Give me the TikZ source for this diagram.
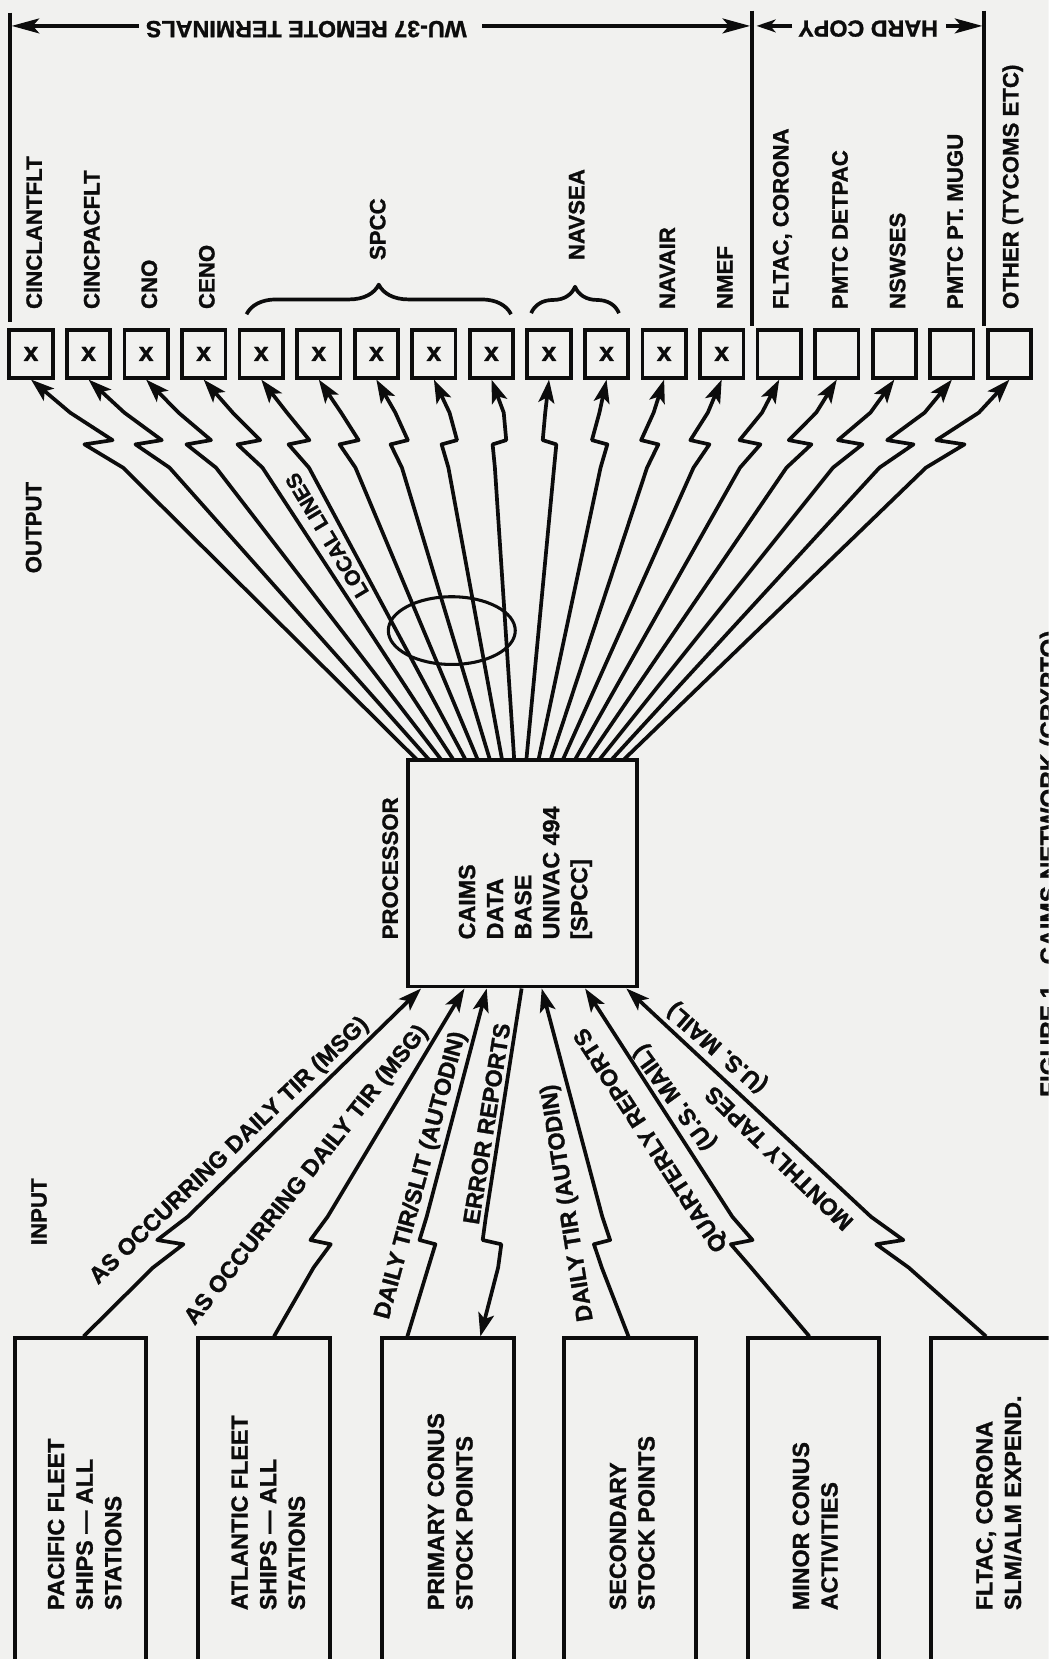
\documentclass[tikz,border=0pt]{standalone}
\usepackage{fontspec}
\setmainfont{Liberation Sans}
\newfontfamily\hv{Liberation Sans Bold}[FakeBold=1.2]
\usetikzlibrary{arrows.meta,decorations.pathreplacing,calc,shapes.geometric}
\definecolor{paper}{RGB}{241,241,239}
\definecolor{ink}{RGB}{12,12,12}
\begin{document}
\begin{tikzpicture}[x=1pt,y=-1pt,
  every node/.style={text=ink},
  lbl/.style={font=\hv\fontsize{21}{26}\selectfont, inner sep=0pt},
  hdr/.style={font=\hv\fontsize{22}{26}\selectfont, inner sep=0pt},
  flow/.style={font=\hv\fontsize{22}{26}\selectfont, inner sep=0pt},
  boxtxt/.style={font=\hv\fontsize{22}{27}\selectfont, inner sep=0pt, align=left},
  wire/.style={draw=ink, line width=3.5pt, line join=round},
  tip/.style={-{Stealth[length=22pt,width=15pt,inset=5pt]}},
  hdrtip/.style={-{Stealth[length=26pt,width=14pt,inset=6pt]}},
  termbox/.style={draw=ink, line width=3.5pt, minimum width=41pt, minimum height=45pt, inner sep=0pt},
  srcbox/.style={draw=ink, line width=3.8pt, minimum width=124pt, minimum height=320pt, inner sep=0pt},
]
\clip (0,0) rectangle (991,1568);
\fill[paper] (0,0) rectangle (991,1568);
\useasboundingbox (0,0) rectangle (991,1568);

% ---------- header: extent arrows ----------
\coordinate (hl0) at (9.5,12);   \coordinate (hl1) at (9.5,304);
\coordinate (hm0) at (711,10);   \coordinate (hm1) at (711,308);
\coordinate (hr0) at (930,10);   \coordinate (hr1) at (930,308);
\draw[wire] (hl0) -- (hl1);
\draw[wire] (hm0) -- (hm1);
\draw[wire] (hr0) -- (hr1);

\node[hdr, rotate=180] (wu) at (289.5,27.5) {WU-37 REMOTE TERMINALS};
\coordinate (wuL) at (131,24.5); \coordinate (wuR) at (456,24.5);
\coordinate (wuTipL) at (11,24.5); \coordinate (wuTipR) at (709,24.5);
\draw[wire,hdrtip] (wuL) -- (wuTipL);
\draw[wire,hdrtip] (wuR) -- (wuTipR);

\node[hdr, rotate=180] (hc) at (820.5,27) {HARD COPY};
\coordinate (hcL) at (749,24.5); \coordinate (hcR) at (894,24.5);
\coordinate (hcTipL) at (715,24.5); \coordinate (hcTipR) at (928.5,24.5);
\draw[wire,-{Stealth[length=18pt,width=12pt,inset=5pt]}] (hcL) -- (hcTipL);
\draw[wire,hdrtip] (hcR) -- (hcTipR);

% ---------- terminal boxes ----------
\foreach \i in {0,...,17}
  \node[termbox] (b\i) at ({29.3+54.4*\i},334.5) {};
\foreach \i in {0,...,12}
  \node[font=\hv\fontsize{25}{25}\selectfont, inner sep=0pt] (x\i) at (b\i) {x};

\foreach \i/\t in {0/CINCLANTFLT,1/CINCPACFLT,2/CNO,3/CENO,11/NAVAIR,12/NMEF,
                   13/{FLTAC, CORONA},14/PMTC DETPAC,15/NSWSES,16/PMTC PT. MUGU,
                   17/OTHER (TYCOMS ETC)}
  \node[lbl, rotate=90, anchor=west] (t\i) at ($(b\i.north)+(3,-18)$) {\t};

\node[lbl, rotate=90, anchor=west] (spcc) at (357,246) {SPCC};
\node[lbl, rotate=90, anchor=west] (navsea) at (545,246) {NAVSEA};
\coordinate (spccA) at (233,297); \coordinate (spccB) at (483,297);
\coordinate (navA) at (502,296); \coordinate (navB) at (585,296);
\draw[wire, decorate, decoration={brace, amplitude=28pt}] (spccA) -- (spccB);
\draw[wire, decorate, decoration={brace, amplitude=25pt}] (navA) -- (navB);

% ---------- processor ----------
\node[draw=ink, line width=3.5pt, minimum width=216.5pt, minimum height=214.5pt, inner sep=0pt]
  (proc) at (493.75,825.25) {};
\foreach \k/\t in {0/CAIMS,1/DATA,2/BASE,3/UNIVAC 494,4/{[SPCC]}}
  \node[font=\hv\fontsize{22}{27}\selectfont, inner sep=0pt, rotate=90, anchor=base west]
    (pl\k) at ({449+26.5*\k},888) {\t};
\node[lbl, rotate=90, anchor=base west] (proclbl) at (376,888) {PROCESSOR};

% ---------- output links (processor to terminals), each with a lightning break ----------
\foreach \i in {0,...,17}{
  \pgfmathsetmacro\px{394+11.5*\i}
  \pgfmathsetmacro\tx{29.3+54.4*\i}
  \pgfmathsetmacro\dx{\tx-\px}
  \pgfmathsetmacro\zx{\px+0.836*\dx+4}
  \pgfmathsetmacro\s{\dx<0 ? -1 : 1}
  \pgfmathsetmacro\hw{6+0.02*abs(\dx)}
  \pgfmathsetmacro\ca{0.10*abs(\dx)}
  \pgfmathsetmacro\cb{0.11*abs(\dx)}
  \coordinate (op\i) at (\px,718);
  \coordinate (ob\i) at ({\zx+\s*\hw},420);
  \coordinate (oa\i) at ({\zx-\s*\hw},416);
  \coordinate (ok\i) at ({\zx+\s*\hw-\s*\ca},442);
  \coordinate (om\i) at ({\zx-\s*\hw+\s*\cb},390);
  \draw[wire,tip] (op\i) -- (ok\i) -- (ob\i) -- (oa\i) -- (om\i) -- (b\i.south);
}
\node[draw=ink, line width=2.9pt, ellipse, minimum width=120pt, minimum height=64pt, inner sep=0pt]
  (bundle) at (427,596) {};
\node[font=\hv\fontsize{20}{24}\selectfont, inner sep=0pt, rotate=121] (local) at (309,506) {LOCAL LINES};
\node[lbl, rotate=90, anchor=base west] (outlbl) at (39,542) {OUTPUT};

% ---------- input sources ----------
\node[srcbox] (in1) at (76,1425) {};
\node[srcbox] (in2) at (249.5,1425) {};
\node[srcbox] (in3) at (423.5,1425) {};
\node[srcbox] (in4) at (595.5,1425) {};
\node[srcbox] (in5) at (768.5,1425) {};
\node[srcbox] (in6) at (942,1425) {};
\node[boxtxt, rotate=90, anchor=west] (in1t) at (80,1522) {PACIFIC FLEET\\SHIPS — ALL\\STATIONS};
\node[boxtxt, rotate=90, anchor=west] (in2t) at (253.5,1522) {ATLANTIC FLEET\\SHIPS — ALL\\STATIONS};
\node[boxtxt, rotate=90, anchor=west] (in3t) at (425.5,1522) {PRIMARY CONUS\\STOCK POINTS};
\node[boxtxt, rotate=90, anchor=west] (in4t) at (597.5,1522) {SECONDARY\\STOCK POINTS};
\node[boxtxt, rotate=90, anchor=west] (in5t) at (770.5,1522) {MINOR CONUS\\ACTIVITIES};
\node[boxtxt, rotate=90, anchor=west] (in6t) at (944,1522) {FLTAC, CORONA\\SLM/ALM EXPEND.};
\node[lbl, rotate=90, anchor=base west] (inlbl) at (44,1177) {INPUT};

% ---------- input links (sources to processor), each with a lightning break ----------
\foreach \n/\b/\so/\zx/\eo in {1/in1/3/161/-95.75, 2/in2/9.5/303/-54.75, 3/in3/-38.5/404/-33.75,
                               5/in4/-1.5/569/18.25, 6/in5/-3.5/701/59.25, 7/in6/-10/841/98.25}{
  \coordinate (is\n) at ($(\b.north)+(\so,0)$);
  \coordinate (ie\n) at ($(proc.south)+(\eo,0)$);
  \path (is\n); \pgfgetlastxy{\ax}{\ay}
  \path (ie\n); \pgfgetlastxy{\bx}{\by}
  \pgfmathsetmacro\dx{\ax-\bx}
  \pgfmathsetmacro\s{\dx<0 ? -1 : 1}
  \pgfmathsetmacro\hw{6+0.02*abs(\dx)}
  \pgfmathsetmacro\ca{0.09*abs(\dx)}
  \pgfmathsetmacro\cb{0.09*abs(\dx)}
  \coordinate (ip\n) at ({\zx+\s*\hw},1172);
  \coordinate (iq\n) at ({\zx-\s*\hw},1176);
  \coordinate (ik\n) at ({\zx+\s*\hw-\s*\ca},1150);
  \coordinate (im\n) at ({\zx-\s*\hw+\s*\cb},1198);
  \draw[wire,tip] (is\n) -- (im\n) -- (iq\n) -- (ip\n) -- (ik\n) -- (ie\n);
}
% error reports go back to the primary stock points
\coordinate (er0) at ($(proc.south)+(-0.75,0)$);
\coordinate (erk) at ({465-8.8+3},1150);
\coordinate (erp) at ({465-8.8},1172);
\coordinate (erq) at ({465+8.8},1176);
\coordinate (erm) at ({465+8.8-3},1198);
\coordinate (er1) at ($(in3.north)+(30.5,0)$);
\draw[wire,tip] (er0) -- (erk) -- (erp) -- (erq) -- (erm) -- (er1);

\node[flow, rotate=43.7] (m1) at (217,1088) {AS OCCURRING DAILY TIR (MSG)};
\node[flow, rotate=51.5] (m2) at (290,1111) {AS OCCURRING DAILY TIR (MSG)};
\node[flow, rotate=75] (m3) at (398,1111) {DAILY TIR/SLIT (AUTODIN)};
\node[flow, rotate=81] (m4) at (460,1062) {ERROR REPORTS};
\node[flow, rotate=99] (m5) at (537,1137) {DAILY TIR (AUTODIN)};
\node[flow, rotate=123] (m6) at (616,1077) {QUARTERLY REPORTS};
\node[flow, rotate=126] (m6b) at (638,1037) {(U.S. MAIL)};
\node[flow, rotate=136] (m7) at (736,1095) {MONTHLY TAPES};
\node[flow, rotate=139] (m7b) at (678,990) {(U.S. MAIL)};

% ---------- caption ----------
\node[font=\hv\fontsize{23}{26}\selectfont, inner sep=0pt, rotate=90, anchor=north west]
  (fig) at (982.5,1037) {FIGURE 1.\ \ CAIMS NETWORK (CRYPTO)};
\end{tikzpicture}
\end{document}
